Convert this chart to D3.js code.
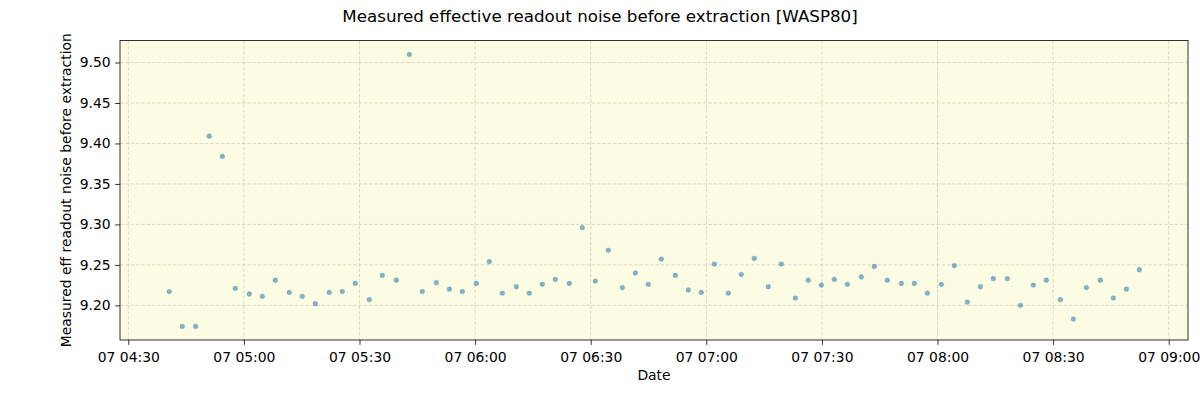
<!DOCTYPE html>
<html><head><meta charset="utf-8">
<script src="https://cdn.jsdelivr.net/npm/d3@7"></script>
<style>
html,body{margin:0;padding:0;background:#fff;}
text{font-family:"DejaVu Sans",sans-serif;fill:#000;}
</style></head>
<body>
<svg id="chart" width="1200" height="400"></svg>
<script>
const times = ["04:40:38","04:44:01","04:47:29","04:51:01","04:54:24","04:57:46","05:01:24","05:04:47","05:08:09","05:11:47",
"05:15:09","05:18:32","05:22:10","05:25:32","05:28:55","05:32:33","05:35:55","05:39:33","05:42:56","05:46:18",
"05:49:56","05:53:19","05:56:41","06:00:19","06:03:41","06:07:04","06:10:41","06:14:04","06:17:26","06:20:49",
"06:24:27","06:27:49","06:31:12","06:34:34","06:38:12","06:41:35","06:44:57","06:48:19","06:51:58","06:55:20",
"06:58:42","07:02:05","07:05:43","07:09:05","07:12:28","07:16:05","07:19:28","07:23:06","07:26:28","07:29:51",
"07:33:13","07:36:36","07:40:14","07:43:36","07:46:59","07:50:37","07:53:59","07:57:22","08:00:59","08:04:22",
"08:07:44","08:11:07","08:14:29","08:18:07","08:21:29","08:24:52","08:28:14","08:31:52","08:35:15","08:38:37",
"08:42:15","08:45:38","08:49:00","08:52:23"];
const values = [9.217,9.174,9.174,9.409,9.384,9.221,9.214,9.211,9.231,9.216,
9.211,9.202,9.216,9.217,9.227,9.207,9.237,9.231,9.510,9.217,
9.228,9.220,9.217,9.227,9.254,9.215,9.223,9.215,9.226,9.232,
9.227,9.296,9.230,9.268,9.222,9.240,9.226,9.257,9.237,9.219,
9.216,9.251,9.215,9.238,9.258,9.223,9.251,9.209,9.231,9.225,
9.232,9.226,9.235,9.248,9.231,9.227,9.227,9.215,9.226,9.249,
9.204,9.223,9.233,9.233,9.200,9.225,9.231,9.207,9.183,9.222,
9.231,9.209,9.220,9.244];
const yTicks = [9.20,9.25,9.30,9.35,9.40,9.45,9.50];
const xTickTimes = ["04:30","05:00","05:30","06:00","06:30","07:00","07:30","08:00","08:30","09:00"];
const xDomain = ["04:27:51","09:05:00"];
const yDomain = [9.1572,9.5272];
const day = "2024-01-07";

const parse = d3.timeParse("%Y-%m-%d %H:%M:%S");
const parseHM = d3.timeParse("%Y-%m-%d %H:%M");
const data = times.map((t,i)=>({t:parse(day+" "+t), v:values[i]}));

const svg = d3.select("#chart");
const m = {l:120, r:12, t:40.5, b:60};
const W = 1200, H = 400;
const x = d3.scaleTime().domain(xDomain.map(s=>parse(day+" "+s))).range([m.l, W-m.r]);
const y = d3.scaleLinear().domain(yDomain).range([H-m.b, m.t]);

svg.append("rect").attr("x",m.l).attr("y",m.t).attr("width",W-m.r-m.l).attr("height",H-m.b-m.t).attr("fill","#fcfce3");

const xt = xTickTimes.map(s=>parseHM(day+" "+s));
const fmt = d3.timeFormat("%d %H:%M");

// grid
const g = svg.append("g");
g.selectAll("line.vx").data(xt).join("line").attr("x1",d=>x(d)).attr("x2",d=>x(d)).attr("y1",m.t).attr("y2",H-m.b)
 .attr("stroke","#b0b0b0").attr("stroke-opacity",0.55).attr("stroke-dasharray","3.7,1.6").attr("stroke-width",0.8);
g.selectAll("line.hy").data(yTicks).join("line").attr("y1",d=>y(d)).attr("y2",d=>y(d)).attr("x1",m.l).attr("x2",W-m.r)
 .attr("stroke","#b0b0b0").attr("stroke-opacity",0.55).attr("stroke-dasharray","3.7,1.6").attr("stroke-width",0.8);

// points
svg.append("g").selectAll("circle").data(data).join("circle")
 .attr("cx",d=>x(d.t)).attr("cy",d=>y(d.v)).attr("r",2.4)
 .attr("fill","#1f77b4").attr("fill-opacity",0.55)
 .attr("stroke","#1f77b4").attr("stroke-opacity",0.25).attr("stroke-width",0.8);

// axes
const xa = svg.append("g").attr("transform",`translate(0,${H-m.b})`)
 .call(d3.axisBottom(x).tickValues(xt).tickFormat(fmt).tickSize(4.9).tickPadding(4));
const ya = svg.append("g").attr("transform",`translate(${m.l},0)`)
 .call(d3.axisLeft(y).tickValues(yTicks).tickFormat(d3.format(".2f")).tickSize(4.9).tickPadding(4.5));
[xa,ya].forEach(a=>{
  a.select(".domain").remove();
  a.selectAll(".tick line").attr("stroke","#000").attr("stroke-width",0.8);
  a.selectAll(".tick text").attr("font-size","13.9px").attr("font-family","DejaVu Sans").attr("fill","#000");
});
xa.selectAll(".tick text").attr("dy","0.95em");

// frame
svg.append("rect").attr("x",m.l).attr("y",m.t).attr("width",W-m.r-m.l).attr("height",H-m.b-m.t)
 .attr("fill","none").attr("stroke","#000").attr("stroke-width",0.8);

// labels
svg.append("text").attr("x",600).attr("y",22).attr("text-anchor","middle").attr("font-size","16.7px").text("Measured effective readout noise before extraction [WASP80]");
svg.append("text").attr("x",(m.l+W-m.r)/2).attr("y",380).attr("text-anchor","middle").attr("font-size","13.9px").text("Date");
svg.append("text").attr("transform",`translate(71,${(m.t+H-m.b)/2}) rotate(-90)`).attr("text-anchor","middle").attr("font-size","13.9px").text("Measured eff readout noise before extraction");
</script>
</body></html>
